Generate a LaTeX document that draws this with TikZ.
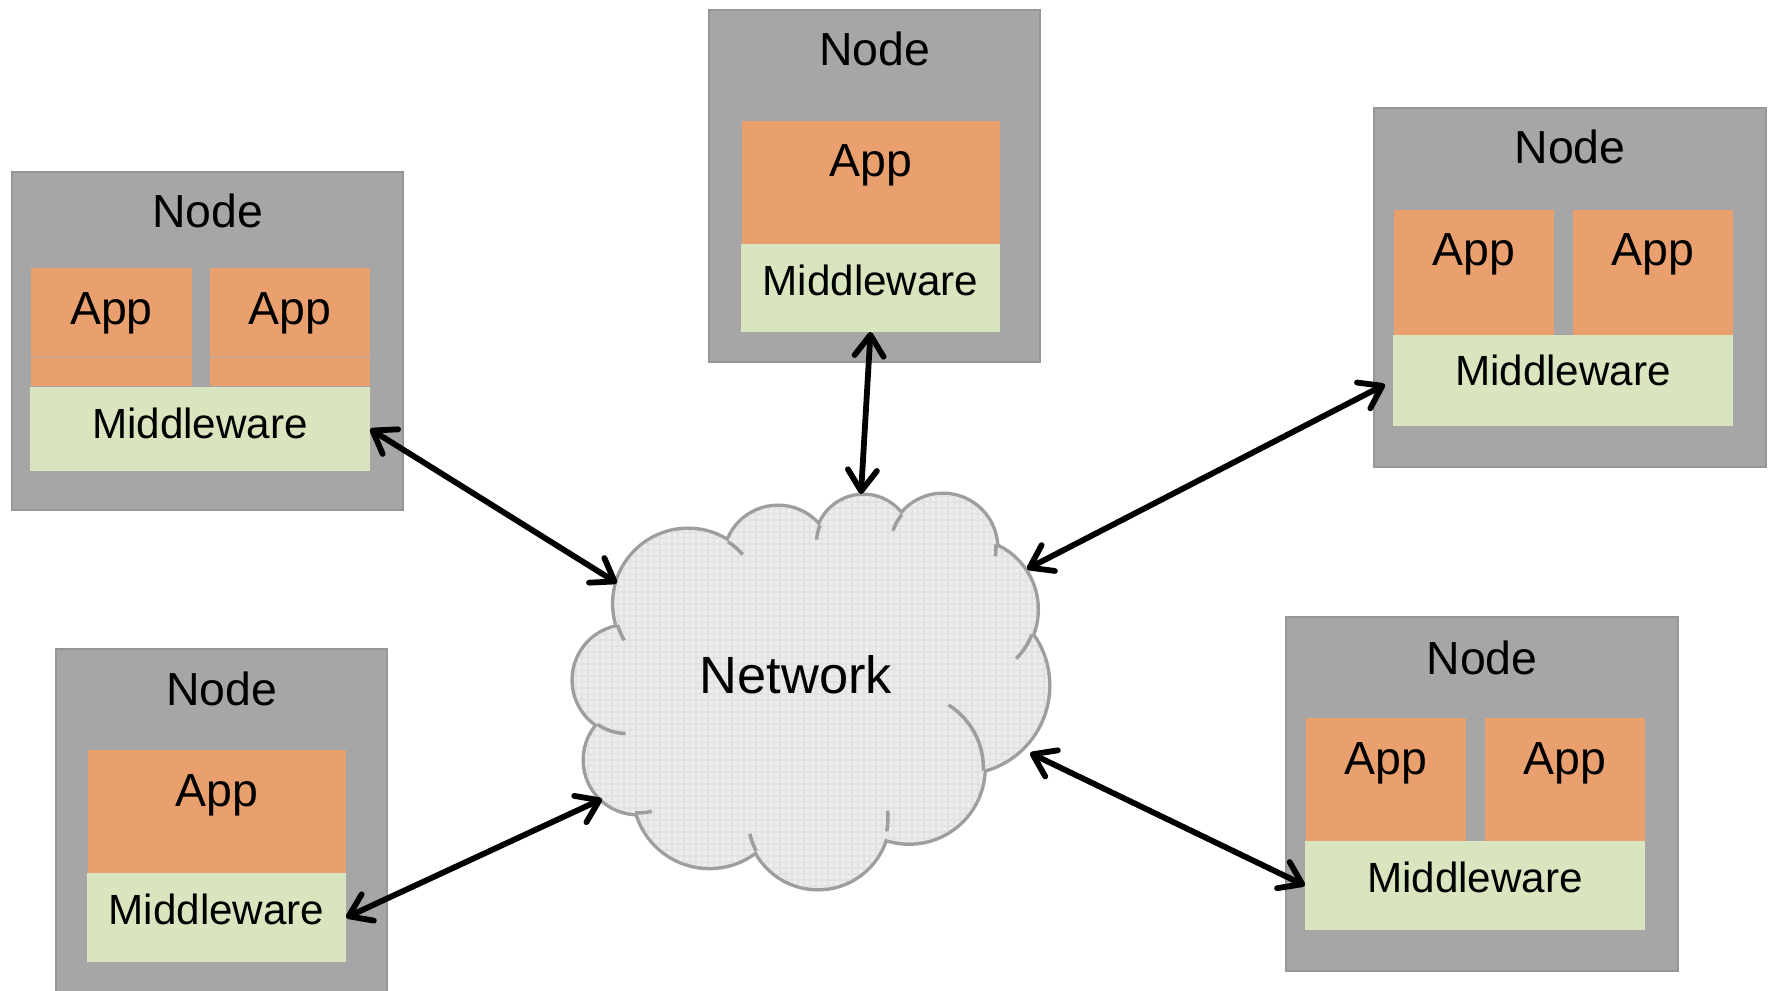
\documentclass[tikz,border=0pt]{standalone}
\usepackage{fontspec}
\setmainfont{Liberation Sans}
\usetikzlibrary{arrows.meta,calc}
\definecolor{hostfill}{RGB}{166,166,166}
\definecolor{hostline}{RGB}{150,150,150}
\definecolor{appfill}{RGB}{233,160,110}
\definecolor{appedge}{RGB}{200,165,140}
\definecolor{mwfill}{RGB}{216,229,191}
\definecolor{cloudfill}{RGB}{237,237,237}
\definecolor{cloudgrid}{RGB}{226,226,226}
\definecolor{cloudline}{RGB}{158,158,158}

\begin{document}
\begin{tikzpicture}[x=0.01cm,y=-0.01cm,
  host/.style={draw=hostline, fill=hostfill, line width=0.6pt, inner sep=0, outer sep=0},
  appbox/.style={fill=appfill, inner sep=0, outer sep=0},
  mwbox/.style={fill=mwfill, inner sep=0, outer sep=0},
  hostlabel/.style={anchor=base, inner sep=0, font=\fontsize{13.2}{16}\selectfont},
  applabel/.style={anchor=base, inner sep=0, font=\fontsize{13.2}{16}\selectfont},
  mwlabel/.style={anchor=base, inner sep=0, font=\fontsize{12}{14}\selectfont},
  netlabel/.style={anchor=base, inner sep=0, font=\fontsize{14.9}{18}\selectfont},
  tip/.tip={Straight Barb[length=0.21cm,width=0.29cm,round]},
  link/.style={line width=1.65pt, tip-tip},
  tail/.style={draw=cloudline, line width=1pt},
]
\useasboundingbox (0,0) rectangle (1772,991);

% ---------- cloud ----------
\def\bumps{688/603.6/73.6, 778/560/53, 863.5/543/47, 943/548/53, 967/609.5/69.5, 961/685.6/87, 909/768/74.4, 818/818/70, 709.5/791.8/75, 638/760/53, 627.5/680/53.6}
% outline: wide strokes, later half covered by the fills
\foreach \cx/\cy/\r in \bumps {\draw[cloudline, line width=2pt] (\cx,\cy) circle[radius=\r];}
\foreach \cx/\cy/\r in \bumps {\fill[cloudfill] (\cx,\cy) circle[radius=\r];}
\fill[cloudfill] (731.4,546.9) -- (818,531) -- (897.2,518.6) -- (988.5,548.6) -- (1027.4,637.8) -- (978,767.2) -- (882.3,824.6) -- (758.5,844.3) -- (643,811.3) -- (602.6,725.4) -- (625.8,628.3) -- cycle;
% fine grid inside the cloud
\begin{scope}
  \clip (731.4,546.9) -- (818,531) -- (897.2,518.6) -- (988.5,548.6) -- (1027.4,637.8) -- (978,767.2) -- (882.3,824.6) -- (758.5,844.3) -- (643,811.3) -- (602.6,725.4) -- (625.8,628.3) -- cycle
    (688,603.6) circle[radius=73.6] (778,560) circle[radius=53] (863.5,543) circle[radius=47]
    (943,548) circle[radius=53] (967,609.5) circle[radius=69.5] (961,685.6) circle[radius=87]
    (909,768) circle[radius=74.4] (818,818) circle[radius=70] (709.5,791.8) circle[radius=75]
    (638,760) circle[radius=53] (627.5,680) circle[radius=53.6];
  \foreach \gx in {570,576,...,1052} {\draw[cloudgrid, line width=0.3pt] (\gx,490) -- (\gx,895);}
  \foreach \gy in {490,496,...,895} {\draw[cloudgrid, line width=0.3pt] (570,\gy) -- (1052,\gy);}
\end{scope}
% inner tails of the bumps
\draw[tail] (688,603.6) ++(-57:73.6) arc[start angle=-57, end angle=-42, radius=73.6];
\draw[tail] (688,603.6) ++(163:73.6) arc[start angle=163, end angle=150, radius=73.6];
\draw[tail] (863.5,543) ++(202:47) arc[start angle=202, end angle=184, radius=47];
\draw[tail] (943,548) ++(219:53) arc[start angle=219, end angle=199, radius=53];
\draw[tail] (943,548) ++(-4:53) arc[start angle=-4, end angle=9, radius=53];
\draw[tail] (967,609.5) ++(21:69.5) arc[start angle=21, end angle=45, radius=69.5];
\draw[tail] (909,768) ++(2:74.4) arc[start angle=2, end angle=-58, radius=74.4];
\draw[tail] (818,818) ++(152:70) arc[start angle=152, end angle=167, radius=70];
\draw[tail] (818,818) ++(11:70) arc[start angle=11, end angle=-6, radius=70];
\draw[tail] (638,760) ++(93:53) arc[start angle=93, end angle=75, radius=53];
\draw[tail] (627.5,680) ++(124:53.6) arc[start angle=124, end angle=92, radius=53.6];
\node[netlabel] (net) at (795.8,693) {Network};

% anchor points of the links on the cloud
\coordinate (cA) at (617,583);
\coordinate (cB) at (861,494);
\coordinate (cC) at (1027,569);
\coordinate (cD) at (602,799);
\coordinate (cE) at (1030,753);

% ---------- host A (upper left) ----------
\node[host, minimum width=3.91cm, minimum height=3.38cm] (hA) at (207.5,341) {};
\node[appbox, minimum width=1.61cm, minimum height=1.18cm] (aA1) at (111.5,327) {};
\node[appbox, minimum width=1.60cm, minimum height=1.18cm] (aA2) at (290,327) {};
\draw[appedge, line width=0.3pt] (aA1.west |- 0,357) -- (aA1.east |- 0,357);
\draw[appedge, line width=0.3pt] (aA2.west |- 0,357) -- (aA2.east |- 0,357);
\node[mwbox, minimum width=3.40cm, minimum height=0.84cm] (mA) at (200,429) {};
\node[hostlabel] (tA) at (207.5,228) {Node};
\node[applabel] (tA1) at (111.5,324) {App};
\node[applabel] (tA2) at (290,324) {App};
\node[mwlabel] (tmA) at (200,438) {Middleware};

% ---------- host B (top) ----------
\node[host, minimum width=3.31cm, minimum height=3.52cm] (hB) at (874.5,186) {};
\node[appbox, minimum width=2.58cm, minimum height=1.23cm] (aB) at (871,182.5) {};
\node[mwbox, minimum width=2.59cm, minimum height=0.88cm] (mB) at (870.5,288) {};
\node[hostlabel] (tB) at (874.5,66) {Node};
\node[applabel] (tB1) at (871,177) {App};
\node[mwlabel] (tmB) at (870.5,295) {Middleware};

% ---------- host C (upper right) ----------
\node[host, minimum width=3.92cm, minimum height=3.59cm] (hC) at (1570,287.5) {};
\node[appbox, minimum width=1.60cm, minimum height=1.25cm] (aC1) at (1474,272.5) {};
\node[appbox, minimum width=1.60cm, minimum height=1.25cm] (aC2) at (1653,272.5) {};
\node[mwbox, minimum width=3.40cm, minimum height=0.91cm] (mC) at (1563,380.5) {};
\node[hostlabel] (tC) at (1570,164) {Node};
\node[applabel] (tC1) at (1474,266) {App};
\node[applabel] (tC2) at (1653,266) {App};
\node[mwlabel] (tmC) at (1563,386) {Middleware};

% ---------- host D (lower left) ----------
\node[host, minimum width=3.31cm, minimum height=3.51cm] (hD) at (221.5,824.5) {};
\node[appbox, minimum width=2.58cm, minimum height=1.23cm] (aD) at (217,811.5) {};
\node[mwbox, minimum width=2.59cm, minimum height=0.89cm] (mD) at (216.5,917.5) {};
\node[hostlabel] (tD) at (221.5,705) {Node};
\node[applabel] (tD1) at (217,806) {App};
\node[mwlabel] (tmD) at (216.5,924) {Middleware};

% ---------- host E (lower right) ----------
\node[host, minimum width=3.92cm, minimum height=3.54cm] (hE) at (1482,794) {};
\node[appbox, minimum width=1.60cm, minimum height=1.23cm] (aE1) at (1386,779.5) {};
\node[appbox, minimum width=1.60cm, minimum height=1.23cm] (aE2) at (1565,779.5) {};
\node[mwbox, minimum width=3.40cm, minimum height=0.89cm] (mE) at (1475,885.5) {};
\node[hostlabel] (tE) at (1482,674) {Node};
\node[applabel] (tE1) at (1386,774) {App};
\node[applabel] (tE2) at (1565,774) {App};
\node[mwlabel] (tmE) at (1475,892) {Middleware};

% ---------- links ----------
\draw[link] (mA.east) -- (cA);
\draw[link] (mB.south) -- (cB);
\draw[link] ($(mC.west)+(-8,4)$) -- (cC);
\draw[link] (mD.east) -- (cD);
\draw[link] (mE.west) -- (cE);
\end{tikzpicture}
\end{document}
